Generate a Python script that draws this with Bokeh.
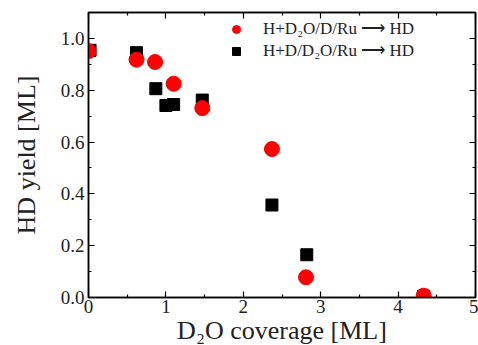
from bokeh.plotting import figure
from bokeh.models import LinearAxis, Range1d, Legend, LegendItem, FixedTicker
from bokeh.embed import file_html
from bokeh.resources import INLINE

# data
red_x = [0.0, 0.62, 0.86, 1.10, 1.47, 2.37, 2.81, 4.33]
red_y = [0.951, 0.918, 0.909, 0.825, 0.731, 0.573, 0.078, 0.007]
blk_x = [0.02, 0.62, 0.87, 1.00, 1.10, 1.47, 2.37, 2.82, 4.33]
blk_y = [0.954, 0.945, 0.806, 0.741, 0.745, 0.762, 0.357, 0.165, 0.005]
label_red = "H+D\u2082O/D/Ru \u27f6 HD"
label_blk = "H+D/D\u2082O/Ru \u27f6 HD"
x_ticks = [0, 1, 2, 3, 4, 5]
y_ticks = [0.0, 0.2, 0.4, 0.6, 0.8, 1.0]

FONT = "Liberation Serif"

p = figure(frame_width=387, frame_height=285, output_backend="svg", toolbar_location=None,
           x_range=Range1d(0, 5), y_range=Range1d(0, 1.1),
           min_border_left=88, min_border_right=3, min_border_top=12, min_border_bottom=46,
           x_axis_location=None, y_axis_location=None)
p.outline_line_color = "black"
p.outline_line_width = 1.5
p.grid.visible = False
p.background_fill_color = "white"
p.border_fill_color = "white"

def style_axis(ax, ticks, minor, labels=True):
    ax.ticker = FixedTicker(ticks=ticks, minor_ticks=minor)
    ax.major_tick_in = 6
    ax.major_tick_out = 0
    ax.minor_tick_in = 3
    ax.minor_tick_out = 0
    ax.axis_line_color = "black"
    ax.axis_line_width = 1.5
    ax.major_tick_line_width = 1.2
    ax.minor_tick_line_width = 1.2
    if labels:
        ax.major_label_text_font = FONT
        ax.major_label_text_font_size = "19px"
        ax.major_label_text_color = "#222222"
        ax.axis_label_text_font = FONT
        ax.axis_label_text_font_size = "26px"
        ax.axis_label_text_font_style = "normal"
        ax.axis_label_text_color = "#222222"
    else:
        ax.major_label_overrides = {t: "" for t in ticks}
        ax.major_label_text_font_size = "1px"
        ax.major_label_standoff = 0

x_minor = [0.5, 1.5, 2.5, 3.5, 4.5]
y_minor = [0.1, 0.3, 0.5, 0.7, 0.9]

xb = LinearAxis(axis_label="D\u2082O coverage [ML]")
style_axis(xb, x_ticks, x_minor)
xb.major_label_standoff = 2
xb.axis_label_standoff = 0
p.add_layout(xb, "below")

yl = LinearAxis(axis_label="HD yield [ML]")
style_axis(yl, y_ticks, y_minor)
yl.major_label_overrides = {0.0: "0.0", 1.0: "1.0"}
yl.major_label_standoff = 4
yl.axis_label_standoff = 17
p.add_layout(yl, "left")

xt = LinearAxis()
style_axis(xt, x_ticks, x_minor, labels=False)
p.add_layout(xt, "above")

yr = LinearAxis()
style_axis(yr, y_ticks, y_minor, labels=False)
p.add_layout(yr, "right")

r_blk = p.scatter(blk_x, blk_y, marker="square", size=12, fill_color="black", line_color="black")
r_red = p.scatter(red_x, red_y, marker="circle", size=15, fill_color="#ff0000", line_color="#ff0000")

legend = Legend(items=[LegendItem(label=label_red, renderers=[r_red]),
                       LegendItem(label=label_blk, renderers=[r_blk])],
                location=(133, 236), border_line_color=None, background_fill_alpha=0,
                label_text_font=FONT, label_text_font_size="17px", label_text_color="#222222",
                spacing=1, glyph_width=30, glyph_height=20, padding=4, label_standoff=12)
p.add_layout(legend, "center")

open("out.html", "w").write(file_html(p, INLINE))
